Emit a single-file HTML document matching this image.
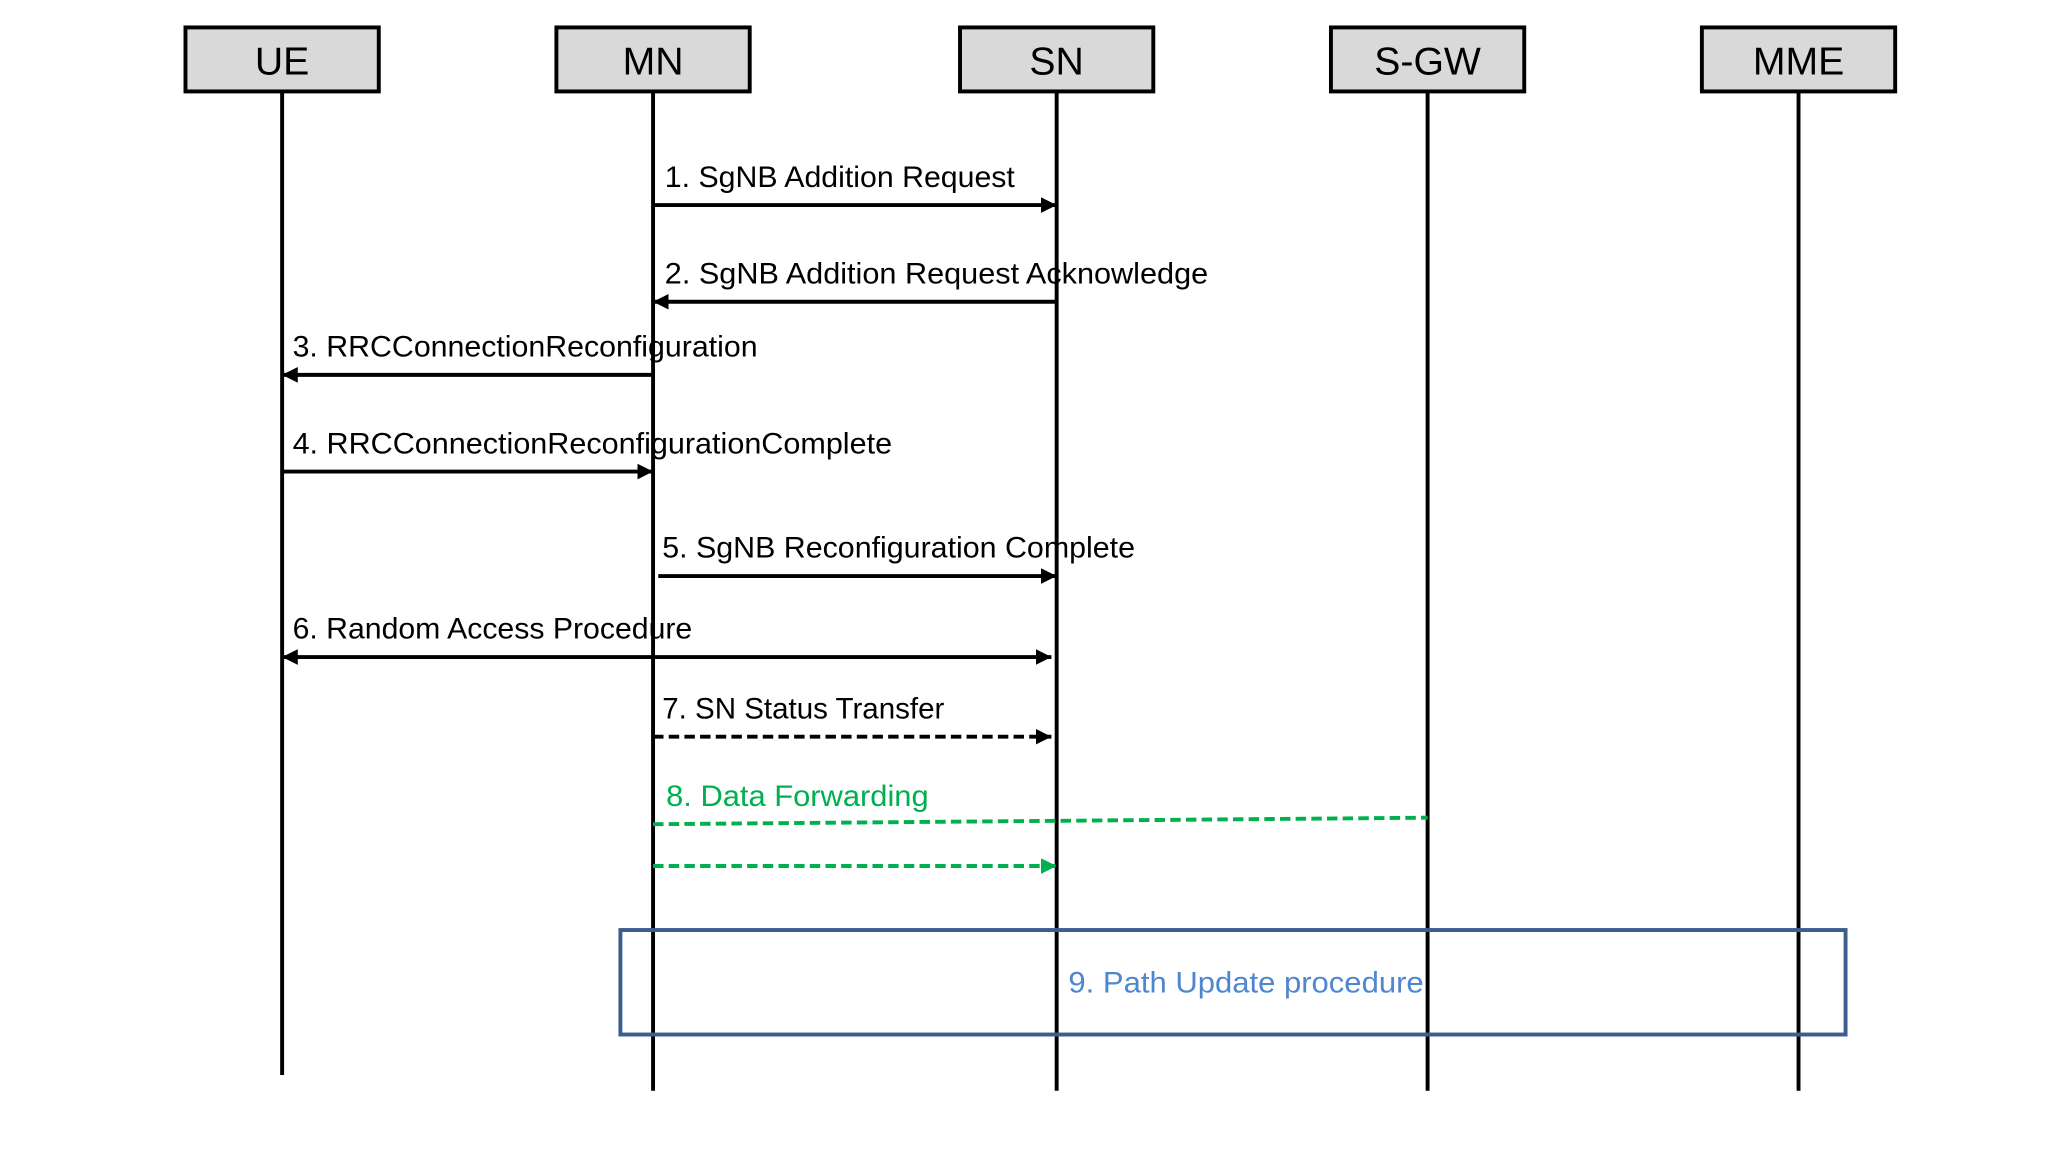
<!DOCTYPE html>
<html><head><meta charset="utf-8"><style>
html,body{margin:0;padding:0;background:#fff;width:2048px;height:1156px;overflow:hidden}
svg{display:block}
text{font-family:"Liberation Sans",sans-serif}
</style></head><body>
<svg width="2048" height="1156" viewBox="0 0 1568 885" preserveAspectRatio="none" xmlns="http://www.w3.org/2000/svg">
<defs>
<marker id="ab" markerWidth="14" markerHeight="14" refX="12" refY="6" orient="auto-start-reverse" markerUnits="userSpaceOnUse"><path d="M0,0 L12,6 L0,12 z" fill="#000"/></marker>
<marker id="ag" markerWidth="14" markerHeight="14" refX="12" refY="6" orient="auto" markerUnits="userSpaceOnUse"><path d="M0,0 L12,6 L0,12 z" fill="#00b050"/></marker>
</defs>
<g stroke="#000" stroke-width="3">
<line x1="216" y1="70" x2="216" y2="823"/>
<line x1="500" y1="70" x2="500" y2="835"/>
<line x1="809" y1="70" x2="809" y2="835"/>
<line x1="1093" y1="70" x2="1093" y2="835"/>
<line x1="1377" y1="70" x2="1377" y2="835"/>
</g>
<g fill="#d9d9d9" stroke="#000" stroke-width="3">
<rect x="142" y="21" width="148" height="49"/>
<rect x="426" y="21" width="148" height="49"/>
<rect x="735" y="21" width="148" height="49"/>
<rect x="1019" y="21" width="148" height="49"/>
<rect x="1303" y="21" width="148" height="49"/>
</g>
<g font-size="30" text-anchor="middle" fill="#000">
<text x="216" y="57">UE</text>
<text x="500" y="57">MN</text>
<text x="809" y="57">SN</text>
<text x="1093" y="57">S-GW</text>
<text x="1377" y="57">MME</text>
</g>
<g stroke="#000" stroke-width="3" fill="none">
<line x1="500" y1="157" x2="809" y2="157" marker-end="url(#ab)"/>
<line x1="809" y1="231" x2="500" y2="231" marker-end="url(#ab)"/>
<line x1="500" y1="287" x2="216" y2="287" marker-end="url(#ab)"/>
<line x1="216" y1="361" x2="500" y2="361" marker-end="url(#ab)"/>
<line x1="504" y1="441" x2="809" y2="441" marker-end="url(#ab)"/>
<line x1="216" y1="503" x2="805" y2="503" marker-start="url(#ab)" marker-end="url(#ab)"/>
<line x1="500" y1="564" x2="805" y2="564" stroke-dasharray="8,4" marker-end="url(#ab)"/>
</g>
<g stroke="#00b050" stroke-width="3" fill="none" stroke-dasharray="8,4">
<line x1="500" y1="631" x2="1093" y2="626"/>
<line x1="500" y1="663" x2="809" y2="663" marker-end="url(#ag)"/>
</g>
<rect x="475" y="712" width="938" height="80" fill="none" stroke="#3b5e8e" stroke-width="3"/>
<g font-size="23" fill="#000">
<text x="509" y="143" textLength="268" lengthAdjust="spacingAndGlyphs">1. SgNB Addition Request</text>
<text x="509" y="217" textLength="416" lengthAdjust="spacingAndGlyphs">2. SgNB Addition Request Acknowledge</text>
<text x="224" y="273" textLength="356" lengthAdjust="spacingAndGlyphs">3. RRCConnectionReconfiguration</text>
<text x="224" y="347" textLength="459" lengthAdjust="spacingAndGlyphs">4. RRCConnectionReconfigurationComplete</text>
<text x="507" y="427" textLength="362" lengthAdjust="spacingAndGlyphs">5. SgNB Reconfiguration Complete</text>
<text x="224" y="489" textLength="306" lengthAdjust="spacingAndGlyphs">6. Random Access Procedure</text>
<text x="507" y="550" textLength="216" lengthAdjust="spacingAndGlyphs">7. SN Status Transfer</text>
<text x="510" y="617" fill="#00b050" textLength="201" lengthAdjust="spacingAndGlyphs">8. Data Forwarding</text>
<text x="818" y="760" fill="#4f86d0" textLength="272" lengthAdjust="spacingAndGlyphs">9. Path Update procedure</text>
</g>
</svg>
</body></html>
